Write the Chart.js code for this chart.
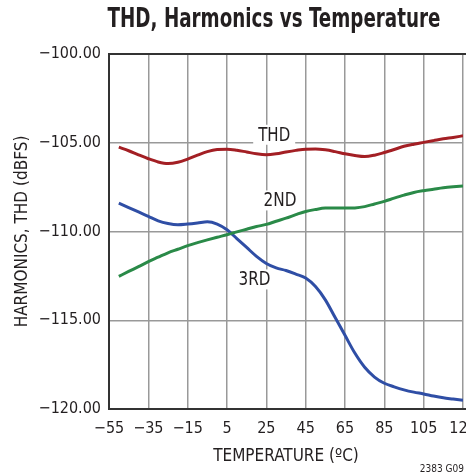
<!DOCTYPE html>
<html>
<head>
<meta charset="utf-8">
<script src="https://cdn.jsdelivr.net/npm/chart.js@4.4.0/dist/chart.umd.min.js"></script>
<style>
  html, body { margin: 0; padding: 0; background: #fff; }
  #wrap { width: 466px; height: 475px; position: relative; }
</style>
</head>
<body>
<div id="wrap"><canvas id="myChart" width="466" height="475"></canvas></div>
<script>
// temperature (C) and readings (dBFS)
var temps = [-50, -45, -40, -35, -30, -25, -20, -15, -10, -5, 0, 5, 10, 15, 20, 25, 30, 35,
             40, 45, 50, 55, 60, 65, 70, 75, 80, 85, 90, 95, 100, 105, 110, 115, 120, 125];
var thd = [-105.25, -105.45, -105.68, -105.9, -106.08, -106.17, -106.1, -105.92, -105.7, -105.5,
           -105.38, -105.36, -105.42, -105.52, -105.62, -105.67, -105.62, -105.52, -105.43, -105.36,
           -105.35, -105.4, -105.5, -105.62, -105.72, -105.78, -105.7, -105.55, -105.38, -105.2,
           -105.08, -104.98, -104.88, -104.78, -104.7, -104.61];
var second = [-112.53, -112.25, -111.98, -111.7, -111.45, -111.2, -111.0, -110.8, -110.63, -110.47,
              -110.32, -110.18, -110.02, -109.87, -109.72, -109.6, -109.42, -109.25, -109.05, -108.87,
              -108.76, -108.68, -108.67, -108.68, -108.67, -108.6, -108.45, -108.3, -108.12, -107.95,
              -107.8, -107.7, -107.62, -107.54, -107.48, -107.43];
var third = [-108.4, -108.65, -108.9, -109.15, -109.4, -109.55, -109.62, -109.58, -109.52, -109.45,
             -109.58, -109.9, -110.4, -110.9, -111.4, -111.8, -112.05, -112.2, -112.4, -112.62,
             -113.1, -113.85, -114.85, -115.85, -116.85, -117.65, -118.2, -118.55, -118.75, -118.92,
             -119.05, -119.15, -119.27, -119.37, -119.44, -119.51];
var xTicks = [-55, -35, -15, 5, 25, 45, 65, 85, 105, 125];
var yTicks = [-120, -115, -110, -105, -100];

var FONT = "'Liberation Sans Narrow', 'DejaVu Sans Condensed', sans-serif";

function pts(vals) {
    return temps.map(function (t, i) { return { x: t, y: vals[i] }; });
}

// draw text squeezed to a given width (the original uses a condensed face)
function narrowText(c, text, cx, cy, width) {
    var w = c.measureText(text).width;
    c.save();
    c.translate(cx, cy);
    c.scale(width / w, 1);
    c.fillText(text, 0, 0);
    c.restore();
}

// frame, curve labels, title and footer
var decor = {
    id: 'decor',
    beforeDatasetsDraw: function (chart) {
        var c = chart.ctx;
        var x = chart.scales.x, y = chart.scales.y;
        c.save();
        c.font = '19px ' + FONT;
        c.textAlign = 'center';
        c.textBaseline = 'middle';
        var labels = [['THD', 29, -104.55, 32], ['2ND', 32, -108.25, 33], ['3RD', 19, -112.7, 32]];
        labels.forEach(function (l) {
            var px = x.getPixelForValue(l[1]), py = y.getPixelForValue(l[2]);
            c.fillStyle = '#fff';
            c.fillRect(px - l[3] / 2 - 5, py - 10, l[3] + 10, 20);
            c.fillStyle = '#231f20';
            narrowText(c, l[0], px, py + 1, l[3]);
        });
        c.restore();
    },
    afterDraw: function (chart) {
        var c = chart.ctx, a = chart.chartArea;
        c.save();
        c.strokeStyle = '#333';
        c.lineWidth = 2;
        c.beginPath();
        c.moveTo(a.right + 5, a.top);
        c.lineTo(a.left, a.top);
        c.lineTo(a.left, a.bottom);
        c.lineTo(a.right + 5, a.bottom);
        c.stroke();
        c.fillStyle = '#231f20';
        c.textAlign = 'center';
        c.textBaseline = 'middle';
        c.font = 'bold 27px ' + FONT;
        narrowText(c, 'THD, Harmonics vs Temperature', 274, 20, 333);
        c.font = '10px ' + FONT;
        c.textAlign = 'right';
        c.fillText('2383 G09', 464, 469);
        c.restore();
    }
};

var ctx = document.getElementById('myChart').getContext('2d');
new Chart(ctx, {
    type: 'line',
    data: {
        datasets: [
            { label: 'THD', data: pts(thd), borderColor: '#a31f24' },
            { label: '2ND', data: pts(second), borderColor: '#2a8a48' },
            { label: '3RD', data: pts(third), borderColor: '#2f4ea5' }
        ]
    },
    options: {
        responsive: false,
        animation: false,
        devicePixelRatio: 1,
        layout: { padding: { left: 8, right: 3, top: 54, bottom: 0 } },
        elements: {
            point: { radius: 0 },
            line: { borderWidth: 3, cubicInterpolationMode: 'monotone', fill: false }
        },
        plugins: { legend: { display: false }, tooltip: { enabled: false } },
        scales: {
            x: {
                type: 'linear', min: -55, max: 125,
                afterBuildTicks: function (s) { s.ticks = xTicks.map(function (v) { return { value: v }; }); },
                afterFit: function (s) { s.height = 66; s.paddingLeft = 0; s.paddingRight = 0; },
                grid: { color: '#999', lineWidth: 1.5, drawTicks: false },
                border: { display: false },
                ticks: {
                    color: '#231f20', padding: 10, maxRotation: 0, autoSkip: false,
                    font: { family: FONT, size: 16 },
                    callback: function (v) { return String(v).replace('-', '\u2212'); }
                },
                title: {
                    display: true, text: 'TEMPERATURE (\u00baC)', color: '#231f20',
                    font: { family: FONT, size: 17 }, padding: { top: 0, bottom: 8 }
                }
            },
            y: {
                min: -120, max: -100,
                afterBuildTicks: function (s) { s.ticks = yTicks.map(function (v) { return { value: v }; }); },
                afterFit: function (s) { s.width = 101; s.paddingTop = 0; s.paddingBottom = 0; },
                grid: { color: '#999', lineWidth: 1.5, drawTicks: false },
                border: { display: false },
                ticks: {
                    color: '#231f20', padding: 8,
                    font: { family: FONT, size: 16 },
                    callback: function (v) { return '\u2212' + Math.abs(v).toFixed(2); }
                },
                title: {
                    display: true, text: 'HARMONICS, THD (dBFS)', color: '#231f20',
                    font: { family: FONT, size: 17 }, padding: { bottom: 0 }
                }
            }
        }
    },
    plugins: [decor]
});
</script>
</body>
</html>
